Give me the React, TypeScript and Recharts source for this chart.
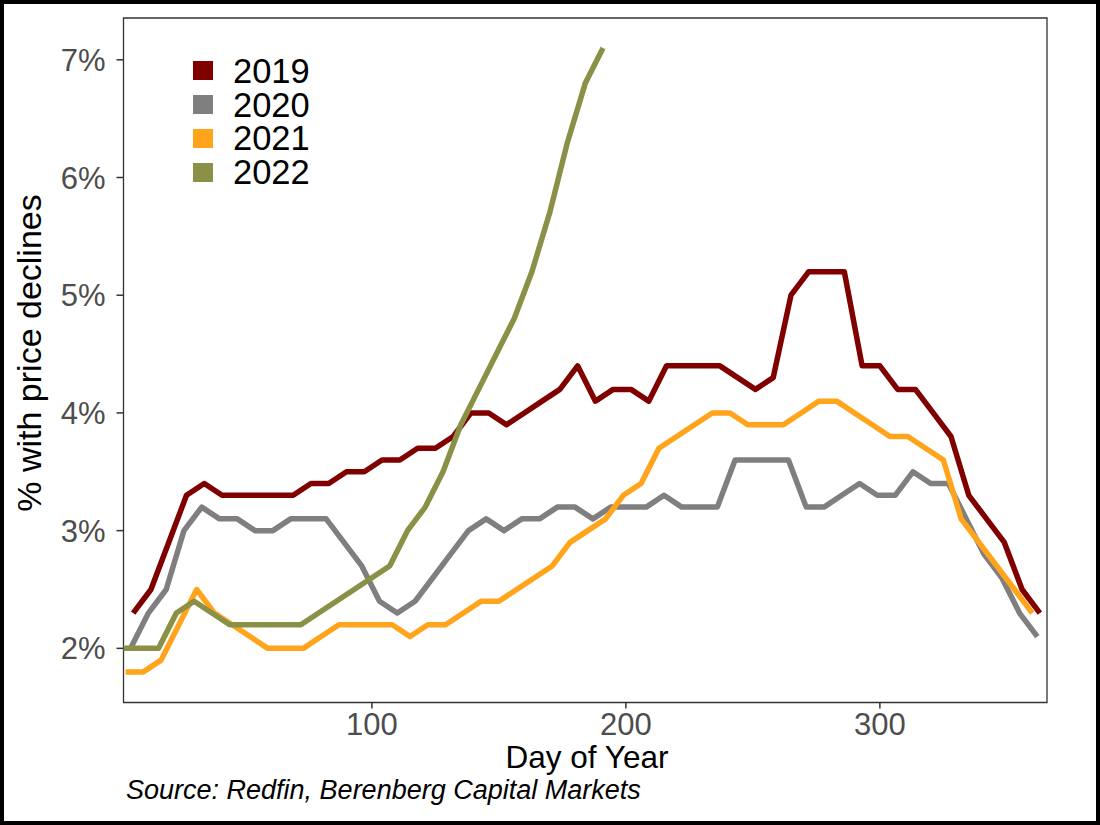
import { LineChart, Line, XAxis, YAxis, Legend, ReferenceArea } from "recharts";

// weekly share of listings with a price drop, %
const years = ["2019", "2020", "2021", "2022"];
const colors = ["#800000", "#7F7F7F", "#FFA41B", "#8A9147"];
// day-of-year of the first weekly reading in each year
const firstDay = [6, 5, 3, 2];

const rate2019 = [
  2.3, 2.5, 2.9, 3.3, 3.4, 3.3, 3.3, 3.3, 3.3, 3.3, 3.4, 3.4, 3.5, 3.5, 3.6, 3.6, 3.7, 3.7,
  3.8, 4.0, 4.0, 3.9, 4.0, 4.1, 4.2, 4.4, 4.1, 4.2, 4.2, 4.1, 4.4, 4.4, 4.4, 4.4, 4.3, 4.2,
  4.3, 5.0, 5.2, 5.2, 5.2, 4.4, 4.4, 4.2, 4.2, 4.0, 3.8, 3.3, 3.1, 2.9, 2.5, 2.3,
];
const rate2020 = [
  2.0, 2.3, 2.5, 3.0, 3.2, 3.1, 3.1, 3.0, 3.0, 3.1, 3.1, 3.1, 2.9, 2.7, 2.4, 2.3, 2.4, 2.6,
  2.8, 3.0, 3.1, 3.0, 3.1, 3.1, 3.2, 3.2, 3.1, 3.2, 3.2, 3.2, 3.3, 3.2, 3.2, 3.2, 3.6, 3.6,
  3.6, 3.6, 3.2, 3.2, 3.3, 3.4, 3.3, 3.3, 3.5, 3.4, 3.4, 3.1, 2.8, 2.6, 2.3, 2.1,
];
const rate2021 = [
  1.8, 1.8, 1.9, 2.2, 2.5, 2.3, 2.2, 2.1, 2.0, 2.0, 2.0, 2.1, 2.2, 2.2, 2.2, 2.2, 2.1, 2.2,
  2.2, 2.3, 2.4, 2.4, 2.5, 2.6, 2.7, 2.9, 3.0, 3.1, 3.3, 3.4, 3.7, 3.8, 3.9, 4.0, 4.0, 3.9,
  3.9, 3.9, 4.0, 4.1, 4.1, 4.0, 3.9, 3.8, 3.8, 3.7, 3.6, 3.1, 2.9, 2.7, 2.5, 2.3,
];
const rate2022 = [
  2.0, 2.0, 2.0, 2.3, 2.4, 2.3, 2.2, 2.2, 2.2, 2.2, 2.2, 2.3, 2.4, 2.5, 2.6, 2.7, 3.0, 3.2,
  3.5, 3.9, 4.2, 4.5, 4.8, 5.2, 5.7, 6.3, 6.8, 7.1,
];

const xTicks = [100, 200, 300];
const yTicks = [2, 3, 4, 5, 6, 7];
const xDomain = [2.2, 365.8];
const yDomain = [1.54, 7.355];

const rates = [rate2019, rate2020, rate2021, rate2022];
const series = rates.map((r, k) => r.map((v, i) => ({ day: firstDay[k] + 7 * i, value: v })));

const FONT = "'Liberation Sans', Arial, Helvetica, sans-serif";

const YearLegend = () => (
  <div style={{ fontFamily: FONT }}>
    {years.map((y, i) => (
      <div key={y} style={{ display: "flex", alignItems: "center", height: 33.8 }}>
        <span style={{ width: 20, height: 19, background: colors[i], display: "inline-block" }} />
        <span style={{ marginLeft: 20, fontSize: 34.5, lineHeight: "30px", color: "#000" }}>{y}</span>
      </div>
    ))}
  </div>
);

const App = () => {
  return (
    <div style={{ position: "relative", width: 1100, height: 825, background: "#fff" }}>
      <style>{"body{margin:0}"}</style>
      <LineChart
        width={1100}
        height={825}
        margin={{ top: 18, right: 53, left: 0, bottom: 0 }}
        style={{ position: "absolute", left: 0, top: 0 }}
      >
        <XAxis
          dataKey="day"
          type="number"
          domain={xDomain}
          ticks={xTicks}
          allowDataOverflow
          height={122.5}
          axisLine={false}
          tickSize={6}
          tickMargin={4}
          tickLine={{ stroke: "#333333", strokeWidth: 1.5 }}
          tick={{ fontSize: 31, fill: "#4D4D4D", fontFamily: FONT }}
        />
        <YAxis
          type="number"
          domain={yDomain}
          ticks={yTicks}
          allowDataOverflow
          width={123.5}
          axisLine={false}
          tickSize={7}
          tickMargin={11}
          tickLine={{ stroke: "#333333", strokeWidth: 1.5 }}
          tickFormatter={(v) => `${v}%`}
          tick={{ fontSize: 31, fill: "#4D4D4D", fontFamily: FONT }}
        />
        {series.map((d, i) => (
          <Line
            key={years[i]}
            data={d}
            dataKey="value"
            name={years[i]}
            type="linear"
            stroke={colors[i]}
            strokeWidth={5.5}
            strokeLinejoin="round"
            dot={false}
            activeDot={false}
            isAnimationActive={false}
          />
        ))}
        <ReferenceArea
          x1={xDomain[0]}
          x2={xDomain[1]}
          y1={yDomain[0]}
          y2={yDomain[1]}
          fill="none"
          stroke="#333333"
          strokeWidth={1.3}
          fillOpacity={0}
        />
        <Legend
          layout="vertical"
          align="center"
          verticalAlign="middle"
          content={<YearLegend />}
          wrapperStyle={{ position: "absolute", left: 193, top: 54, width: 160, height: 136 }}
        />
      </LineChart>
      <svg
        width={1100}
        height={825}
        style={{ position: "absolute", left: 0, top: 0, pointerEvents: "none" }}
        fontFamily={FONT}
      >
        <text x={587} y={768} textAnchor="middle" fontSize={31.5} fill="#000">
          Day of Year
        </text>
        <text x={41} y={353} textAnchor="middle" fontSize={34} fill="#000" transform="rotate(-90 41 353)">
          % with price declines
        </text>
        <text x={126} y={799} fontSize={27} fontStyle="italic" fill="#000">
          Source: Redfin, Berenberg Capital Markets
        </text>
      </svg>
      <div
        style={{
          position: "absolute",
          inset: 0,
          border: "4px solid #000",
          pointerEvents: "none",
        }}
      />
    </div>
  );
};

export default App;
